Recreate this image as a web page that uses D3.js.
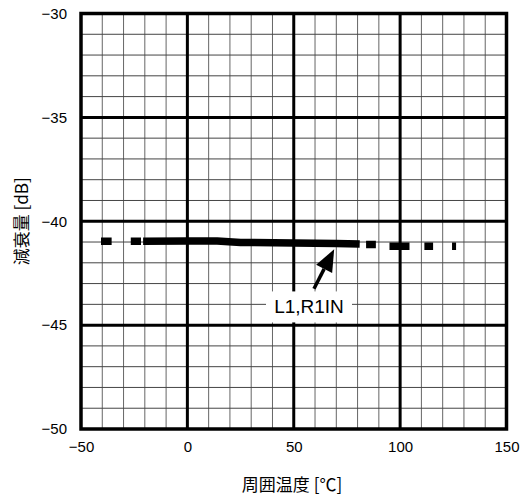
<!DOCTYPE html>
<html><head><meta charset="utf-8">
<script src="https://cdn.jsdelivr.net/npm/d3@7"></script>
<style>body{margin:0;background:#fff}svg{display:block}</style>
</head><body>
<svg id="c" width="523" height="497"></svg>
<script>
// Data (null = gap in the plotted trace)
const temperature = [-40.6, -35.6, null, -26.6, -21.8, null, -20.8, 0, 14, 25, 50, 70, 81, null, 84, 88.6, null, 95, 104.4, null, 111.4, 115.5, null, 124.4, 126.3];
const attenuation = [-40.96, -40.96, null, -40.96, -40.96, null, -40.96, -40.95, -40.95, -41.02, -41.05, -41.07, -41.1, null, -41.12, -41.12, null, -41.2, -41.2, null, -41.2, -41.2, null, -41.2, -41.2];
const xTicks = [-50, 0, 50, 100, 150];
const yTicks = [-50, -45, -40, -35, -30];
const xLabel = "周囲温度 [℃]";
const yLabel = "減衰量 [dB]";
const seriesLabel = "L1,R1IN";
const arrowTip = [69, -41.35];
const arrowTail = [59.5, -43.25];

const svg = d3.select("#c");
const m = {l: 81, r: 16.5, t: 13.5, b: 68};
const W = 523, H = 497;
const x = d3.scaleLinear().domain([-50, 150]).range([m.l, W - m.r]);
const y = d3.scaleLinear().domain([-50, -30]).range([H - m.b, m.t]);
const g = svg.append("g");

// minor grid
g.append("g").selectAll("line").data(d3.range(-50, 151, 10).filter(v => v % 50 !== 0))
  .join("line").attr("x1", d => x(d)).attr("x2", d => x(d)).attr("y1", y(-50)).attr("y2", y(-30))
  .attr("stroke", "#666").attr("stroke-width", 1);
g.append("g").selectAll("line").data(d3.range(-50, -29, 1).filter(v => v % 5 !== 0))
  .join("line").attr("y1", d => y(d)).attr("y2", d => y(d)).attr("x1", x(-50)).attr("x2", x(150))
  .attr("stroke", "#444").attr("stroke-width", 1);
// major grid
g.append("g").selectAll("line").data(xTicks.slice(1, -1))
  .join("line").attr("x1", d => x(d)).attr("x2", d => x(d)).attr("y1", y(-50)).attr("y2", y(-30))
  .attr("stroke", "#000").attr("stroke-width", 3);
g.append("g").selectAll("line").data(yTicks.slice(1, -1))
  .join("line").attr("y1", d => y(d)).attr("y2", d => y(d)).attr("x1", x(-50)).attr("x2", x(150))
  .attr("stroke", "#000").attr("stroke-width", 3);

// trace
const pts = temperature.map((t, i) => [t, attenuation[i]]);
const line = d3.line().defined(d => d[0] !== null && d[1] !== null).x(d => x(d[0])).y(d => y(d[1]));
g.append("path").attr("d", line(pts)).attr("fill", "none").attr("stroke", "#000")
  .attr("stroke-width", 7.5).attr("stroke-linecap", "butt").attr("stroke-linejoin", "round");

// border
g.append("rect").attr("x", x(-50)).attr("y", y(-30)).attr("width", x(150) - x(-50)).attr("height", y(-50) - y(-30))
  .attr("fill", "none").attr("stroke", "#000").attr("stroke-width", 3.5);

// axes labels
const font = "'Liberation Sans', Arial, sans-serif";
const jfont = "'Noto Sans CJK JP', sans-serif";
const xa = d3.axisBottom(x).tickValues(xTicks).tickSize(0).tickPadding(12).tickFormat(d => d3.format("")(d).replace("-", "−"));
const xg = svg.append("g").attr("transform", `translate(0,${y(-50)})`).call(xa);
xg.select(".domain").remove();
xg.selectAll("text").attr("font-family", font).attr("font-size", 15).attr("fill", "#000");
const ya = d3.axisLeft(y).tickValues(yTicks).tickSize(0).tickPadding(14).tickFormat(d => d3.format("")(d).replace("-", "−"));
const yg = svg.append("g").attr("transform", `translate(${x(-50)},0)`).call(ya);
yg.select(".domain").remove();
yg.selectAll("text").attr("font-family", font).attr("font-size", 15).attr("fill", "#000");

svg.append("text").attr("x", 292).attr("y", 491).attr("text-anchor", "middle").attr("fill", "#000")
  .attr("font-family", jfont).attr("font-size", 17).text(xLabel);
svg.append("text").attr("transform", `translate(28,${(y(-30) + y(-50)) / 2}) rotate(-90)`).attr("text-anchor", "middle")
  .attr("fill", "#000").attr("font-family", jfont).attr("font-size", 17).text(yLabel);

// annotation
const lbl = svg.append("g");
const lx = 309, ly = y(-44.1);
lbl.append("rect").attr("x", lx - 43).attr("y", ly - 15).attr("width", 86).attr("height", 31).attr("fill", "#fff");
lbl.append("text").attr("x", lx).attr("y", ly + 7).attr("text-anchor", "middle").attr("fill", "#000")
  .attr("font-family", font).attr("font-size", 19).text(seriesLabel);
const tip = [x(arrowTip[0]), y(arrowTip[1])], tail = [x(arrowTail[0]), y(arrowTail[1])];
const ang = Math.atan2(tip[1] - tail[1], tip[0] - tail[0]);
const hl = 22, hw = 9;
const bx = tip[0] - hl * Math.cos(ang), by = tip[1] - hl * Math.sin(ang);
svg.append("line").attr("x1", tail[0]).attr("y1", tail[1]).attr("x2", bx).attr("y2", by)
  .attr("stroke", "#000").attr("stroke-width", 3.5);
svg.append("path").attr("d", `M${tip[0]},${tip[1]}L${bx + hw * Math.sin(ang)},${by - hw * Math.cos(ang)}L${bx - hw * Math.sin(ang)},${by + hw * Math.cos(ang)}Z`)
  .attr("fill", "#000");
</script>
</body></html>
